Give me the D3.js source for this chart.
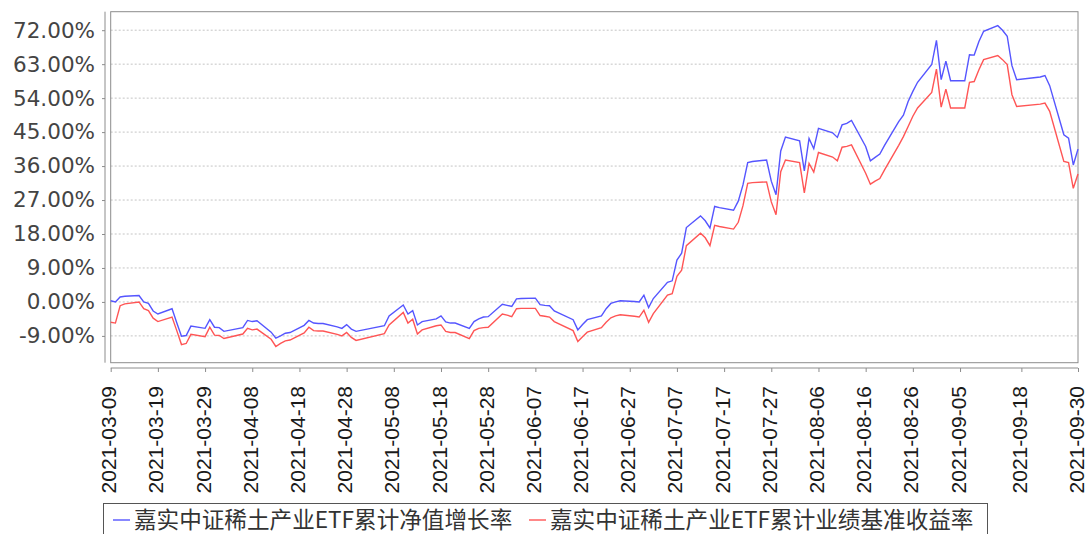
<!DOCTYPE html>
<html>
<head>
<meta charset="utf-8">
<script src="https://cdn.jsdelivr.net/npm/d3@7"></script>
<style>
  body { margin: 0; background: #fff; }
  svg { display: block; }
</style>
</head>
<body>
<div id="chart"></div>
<script>
// 嘉实中证稀土产业ETF: cumulative NAV growth vs benchmark return
const width = 1088;
const height = 534;

const dates = [
  "2021-03-09","2021-03-10","2021-03-11","2021-03-12","2021-03-15","2021-03-16","2021-03-17","2021-03-18","2021-03-19",
  "2021-03-22","2021-03-23","2021-03-24","2021-03-25","2021-03-26","2021-03-29","2021-03-30","2021-03-31",
  "2021-04-01","2021-04-02","2021-04-06","2021-04-07","2021-04-08","2021-04-09","2021-04-12","2021-04-13","2021-04-14",
  "2021-04-15","2021-04-16","2021-04-19","2021-04-20","2021-04-21","2021-04-22","2021-04-23","2021-04-26","2021-04-27",
  "2021-04-28","2021-04-29","2021-04-30",
  "2021-05-06","2021-05-07","2021-05-10","2021-05-11","2021-05-12","2021-05-13","2021-05-14","2021-05-17","2021-05-18",
  "2021-05-19","2021-05-20","2021-05-21","2021-05-24","2021-05-25","2021-05-26","2021-05-27","2021-05-28","2021-05-31",
  "2021-06-01","2021-06-02","2021-06-03","2021-06-04","2021-06-07","2021-06-08","2021-06-09","2021-06-10","2021-06-11",
  "2021-06-15","2021-06-16","2021-06-17","2021-06-18","2021-06-21","2021-06-22","2021-06-23","2021-06-24","2021-06-25",
  "2021-06-28","2021-06-29","2021-06-30",
  "2021-07-01","2021-07-02","2021-07-05","2021-07-06","2021-07-07","2021-07-08","2021-07-09","2021-07-12","2021-07-13",
  "2021-07-14","2021-07-15","2021-07-16","2021-07-19","2021-07-20","2021-07-21","2021-07-22","2021-07-23","2021-07-26",
  "2021-07-27","2021-07-28","2021-07-29","2021-07-30",
  "2021-08-02","2021-08-03","2021-08-04","2021-08-05","2021-08-06","2021-08-09","2021-08-10","2021-08-11","2021-08-12",
  "2021-08-13","2021-08-16","2021-08-17","2021-08-18","2021-08-19","2021-08-20","2021-08-23","2021-08-24","2021-08-25",
  "2021-08-26","2021-08-27","2021-08-30","2021-08-31",
  "2021-09-01","2021-09-02","2021-09-03","2021-09-06","2021-09-07","2021-09-08","2021-09-09","2021-09-10","2021-09-13",
  "2021-09-14","2021-09-15","2021-09-16","2021-09-17","2021-09-22","2021-09-23","2021-09-24","2021-09-27","2021-09-28",
  "2021-09-29","2021-09-30"
];

// 累计净值增长率 (%)
const navGrowth = [
  0.3, 0.0, 1.3, 1.5, 1.7, 0.0, -0.4, -2.4, -3.2,
  -1.8, -5.5, -9.1, -8.9, -6.4, -7.0, -4.7, -6.7,
  -6.8, -7.8, -6.8, -4.9, -5.2, -5.0, -8.0, -9.6, -9.0,
  -8.3, -8.1, -6.2, -4.9, -5.6, -5.7, -5.7, -6.6, -7.0,
  -6.0, -7.2, -7.8,
  -6.3, -3.7, -0.8, -3.2, -2.3, -6.1, -5.2, -4.5, -3.7,
  -5.3, -5.6, -5.6, -7.0, -5.2, -4.5, -4.0, -3.9, -0.6,
  -0.9, -1.2, 0.8, 0.9, 1.0, -0.7, -0.9, -1.0, -2.4,
  -4.7, -7.4, -6.0, -4.7, -3.7, -1.8, -0.4, 0.0, 0.3,
  0.1, 0.0, 1.8,
  -1.5, 0.9, 5.2, 5.6, 11.1, 12.9, 19.7, 22.8, 21.5,
  19.6, 25.3, 25.0, 24.3, 26.7, 31.0, 36.9, 37.2, 37.6,
  32.0, 28.4, 40.0, 43.7,
  42.7, 34.7, 43.3, 40.6, 46.0, 44.8, 43.6, 46.9, 47.3,
  48.1, 41.2, 37.4, 38.3, 39.2, 41.5, 47.8, 49.5, 53.1,
  55.8, 58.2, 62.9, 69.3,
  58.9, 63.8, 58.6, 58.6, 65.5, 65.4, 69.0, 71.7, 73.2,
  72.0, 70.4, 62.6, 58.9, 59.6, 60.0, 57.3, 44.3, 43.4,
  36.3, 40.5
];

// 累计业绩基准收益率 (%)
const benchmarkReturn = [
  -5.4, -5.6, -1.0, -0.5, 0.0, -1.8, -2.3, -4.3, -5.2,
  -4.0, -7.6, -11.3, -11.0, -8.6, -9.2, -6.7, -8.8,
  -8.9, -9.7, -8.5, -7.0, -7.4, -7.2, -9.9, -11.8, -11.0,
  -10.3, -10.1, -8.2, -6.7, -7.6, -7.7, -7.7, -8.6, -9.0,
  -8.1, -9.4, -10.2,
  -8.4, -6.1, -2.8, -5.6, -4.6, -8.5, -7.4, -6.3, -6.1,
  -7.8, -8.1, -8.1, -9.7, -7.6, -7.0, -6.8, -6.7, -3.2,
  -3.5, -3.9, -1.8, -1.7, -1.7, -3.6, -3.8, -4.0, -5.2,
  -7.6, -10.5, -9.2, -8.0, -6.8, -5.4, -4.2, -3.7, -3.4,
  -3.8, -4.0, -2.2,
  -5.4, -3.1, 1.8, 2.2, 6.8, 8.4, 14.9, 18.2, 17.0,
  14.9, 20.3, 20.0, 19.3, 21.1, 25.5, 31.4, 31.6, 31.8,
  26.5, 23.1, 34.5, 37.6,
  36.9, 28.9, 36.7, 34.4, 39.6, 38.4, 37.4, 41.0, 41.2,
  41.6, 34.1, 31.2, 32.0, 32.7, 35.0, 41.5, 43.8, 46.5,
  49.2, 51.4, 55.5, 61.7,
  51.6, 56.4, 51.4, 51.4, 58.2, 58.4, 61.5, 64.2, 65.3,
  64.2, 62.9, 54.9, 51.8, 52.4, 52.7, 50.5, 37.2, 36.9,
  30.1, 33.9
];

const yTicks = [-9, 0, 9, 18, 27, 36, 45, 54, 63, 72];
const xTickLabels = [
  "2021-03-09","2021-03-19","2021-03-29","2021-04-08","2021-04-18","2021-04-28","2021-05-08",
  "2021-05-18","2021-05-28","2021-06-07","2021-06-17","2021-06-27","2021-07-07","2021-07-17",
  "2021-07-27","2021-08-06","2021-08-16","2021-08-26","2021-09-05","2021-09-18","2021-09-30"
];
const seriesNames = ["嘉实中证稀土产业ETF累计净值增长率", "嘉实中证稀土产业ETF累计业绩基准收益率"];
const seriesColors = ["#5555ff", "#ff5555"];

const parseDate = d3.utcParse("%Y-%m-%d");

// plot box
const plotLeft = 110.7, plotRight = 1078, plotTop = 11.7, plotBottom = 362.7;

const svg = d3.select("#chart")
    .append("svg")
    .attr("width", width)
    .attr("height", height);

const x = d3.scaleUtc()
    .domain([parseDate("2021-03-09"), parseDate("2021-09-30")])
    .range([plotLeft, plotRight]);

const y = d3.scaleLinear()
    .domain([-16.1, 76.9])
    .range([plotBottom, plotTop]);

// grid lines
svg.append("g")
    .selectAll("line")
    .data(yTicks)
    .join("line")
    .attr("x1", plotLeft)
    .attr("x2", plotRight)
    .attr("y1", d => y(d))
    .attr("y2", d => y(d))
    .attr("stroke", "#c4c4c4")
    .attr("stroke-width", 1)
    .attr("stroke-dasharray", "2,2");

// plot outline
svg.append("rect")
    .attr("x", plotLeft)
    .attr("y", plotTop)
    .attr("width", plotRight - plotLeft)
    .attr("height", plotBottom - plotTop)
    .attr("fill", "none")
    .attr("stroke", "#8c8c8c")
    .attr("stroke-width", 1);

// y axis
const yAxis = svg.append("g")
    .attr("transform", "translate(105,0)")
    .call(d3.axisLeft(y)
        .tickValues(yTicks)
        .tickFormat(d => d.toFixed(2) + "%")
        .tickSize(3)
        .tickPadding(7)
        .tickSizeOuter(0));
yAxis.select(".domain").attr("stroke", "#8c8c8c").attr("d", `M0,${plotTop}V${plotBottom}`);
yAxis.selectAll(".tick line").attr("stroke", "#8c8c8c");
yAxis.selectAll("text")
    .attr("fill", "#444")
    .style("font-family", "DejaVu Sans")
    .style("font-size", "21.5px");

// x axis
const xAxis = svg.append("g")
    .attr("transform", "translate(0,368)")
    .call(d3.axisBottom(x)
        .tickValues(xTickLabels.map(parseDate))
        .tickFormat(d3.utcFormat("%Y-%m-%d"))
        .tickSize(4)
        .tickSizeOuter(0));
xAxis.select(".domain").attr("stroke", "#8c8c8c").attr("d", `M${plotLeft},0H${plotRight}`);
xAxis.selectAll(".tick line").attr("stroke", "#8c8c8c");
xAxis.selectAll("text")
    .attr("fill", "#1a1a1a")
    .attr("y", 0)
    .attr("dy", "0.24em")
    .attr("transform", "translate(0,18) rotate(-90)")
    .attr("text-anchor", "end")
    .style("font-family", "'Liberation Sans', Arial")
    .style("font-size", "21px");

// lines
const series = [navGrowth, benchmarkReturn];
const line = d3.line()
    .x((d, i) => x(parseDate(dates[i])))
    .y(d => y(d));

svg.append("g")
    .selectAll("path")
    .data(series)
    .join("path")
    .attr("d", d => line(d))
    .attr("fill", "none")
    .attr("stroke", (d, i) => seriesColors[i])
    .attr("stroke-width", 1.4);

// legend
const legend = svg.append("g");
legend.append("rect")
    .attr("x", 103.5)
    .attr("y", 503.5)
    .attr("width", 884)
    .attr("height", 40)
    .attr("fill", "#fff")
    .attr("stroke", "#555")
    .attr("stroke-width", 1);

const legendX = [113, 529];
seriesNames.forEach((name, i) => {
    legend.append("line")
        .attr("x1", legendX[i])
        .attr("x2", legendX[i] + 17)
        .attr("y1", 520)
        .attr("y2", 520)
        .attr("stroke", seriesColors[i])
        .attr("stroke-width", 1.4);
    legend.append("text")
        .attr("x", legendX[i] + 21)
        .attr("y", 520)
        .attr("dy", "0.36em")
        .attr("fill", "#333")
        .style("font-family", "'Noto Sans CJK SC', 'DejaVu Sans'")
        .style("font-size", "22.6px")
        .text(name);
});
</script>
</body>
</html>
